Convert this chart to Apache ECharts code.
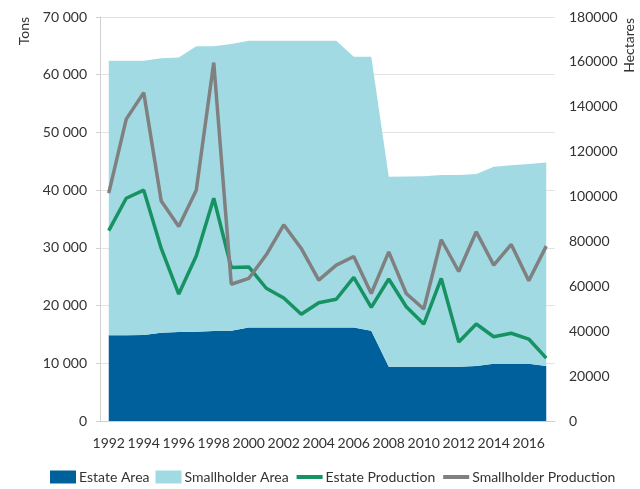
<!DOCTYPE html>
<html>
<head>
<meta charset="utf-8">
<script src="https://cdn.jsdelivr.net/npm/echarts@6/dist/echarts.min.js"></script>
<style>
html,body{margin:0;padding:0;background:#fff;}
#chart{width:640px;height:489px;}
</style>
</head>
<body>
<div id="chart"></div>
<script>
var years = ['1992','1993','1994','1995','1996','1997','1998','1999','2000','2001','2002','2003','2004','2005','2006','2007','2008','2009','2010','2011','2012','2013','2014','2015','2016','2017'];
// Hectares (right axis)
var estateArea = [38200,38200,38300,39300,39600,39800,40100,40200,41700,41700,41700,41700,41700,41700,41700,40200,24200,24200,24200,24200,24200,24500,25500,25500,25500,24500];
var totalArea  = [160500,160500,160500,161600,162000,167000,167000,168000,169400,169400,169400,169400,169400,169400,162300,162300,108800,108900,109000,109600,109600,110000,113300,114000,114500,115200];
var smallholderArea = totalArea.map(function(t,i){return t - estateArea[i];});
// Tons (left axis)
var estateProduction = [33000,38600,40000,29900,22000,28600,38600,26600,26700,23000,21300,18500,20500,21100,24900,19700,24600,19800,16800,24700,13700,16800,14600,15200,14200,10900];
var smallholderProduction = [39500,52300,56900,38100,33700,40000,62100,23700,24700,28800,34000,29900,24400,27000,28500,22100,29300,22100,19400,31400,25900,32800,27000,30600,24300,30300];

var chart = echarts.init(document.getElementById('chart'));
var font = 'Lato';
function spaced(v){return String(v).replace(/\B(?=(\d{3})+(?!\d))/g,' ');}
chart.setOption({
  animation:false,
  backgroundColor:'#fff',
  textStyle:{fontFamily:font},
  grid:{left:100,right:85,top:17,bottom:68,containLabel:false},
  graphic:[
    {type:'text',left:17,top:17,rotation:Math.PI/2,style:{text:'Tons',fill:'#333',font:'14px Lato'}},
    {type:'text',left:622,top:18,rotation:Math.PI/2,style:{text:'Hectares',fill:'#333',font:'14px Lato'}}
  ],
  legend:{
    left:45,bottom:0,width:620,itemWidth:26,itemHeight:13,itemGap:6,
    textStyle:{fontSize:14,color:'#333',fontFamily:font,padding:[0,0,0,-2]},
    data:[
      {name:'Estate Area',icon:'rect'},
      {name:'Smallholder Area',icon:'rect'},
      {name:'Estate Production',itemStyle:{opacity:0},lineStyle:{width:4}},
      {name:'Smallholder Production',itemStyle:{opacity:0},lineStyle:{width:4}}
    ]
  },
  xAxis:{
    type:'category',data:years,boundaryGap:true,
    axisLine:{lineStyle:{color:'#d0d0d0'}},
    axisTick:{interval:0,length:6,lineStyle:{color:'#d0d0d0'}},
    axisLabel:{interval:1,color:'#333',fontSize:14,margin:15,fontFamily:font}
  },
  yAxis:[
    {type:'value',min:0,max:70000,interval:10000,
     axisLine:{show:true,lineStyle:{color:'#d0d0d0'}},
     axisTick:{show:true,length:4,lineStyle:{color:'#d0d0d0'}},
     splitLine:{lineStyle:{color:'#e3e3e3'}},
     axisLabel:{color:'#333',fontSize:14,margin:13,formatter:spaced,fontFamily:font}},
    {type:'value',min:0,max:180000,interval:20000,position:'right',
     axisLine:{show:false},axisTick:{show:false},splitLine:{show:false},
     axisLabel:{color:'#333',fontSize:14,margin:14,formatter:function(v){return String(v);},fontFamily:font}}
  ],
  series:[
    {name:'Estate Area',type:'line',yAxisIndex:1,stack:'area',data:estateArea,symbol:'none',
     lineStyle:{width:0},itemStyle:{color:'#00609c'},areaStyle:{color:'#00609c',opacity:1}},
    {name:'Smallholder Area',type:'line',yAxisIndex:1,stack:'area',data:smallholderArea,symbol:'none',
     lineStyle:{width:0},itemStyle:{color:'#a2dae3'},areaStyle:{color:'#a2dae3',opacity:1}},
    {name:'Estate Production',type:'line',yAxisIndex:0,data:estateProduction,symbol:'none',
     lineStyle:{width:3.5,color:'#179262'},itemStyle:{color:'#179262'}},
    {name:'Smallholder Production',type:'line',yAxisIndex:0,data:smallholderProduction,symbol:'none',
     lineStyle:{width:3.5,color:'#808080'},itemStyle:{color:'#808080'}}
  ]
});
</script>
</body>
</html>
